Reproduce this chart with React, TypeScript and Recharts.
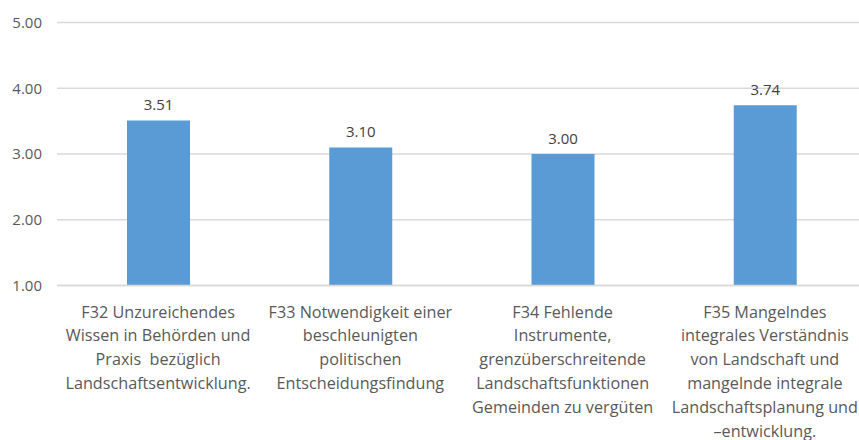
import { BarChart, Bar, XAxis, YAxis, CartesianGrid, LabelList } from "recharts";

const categories = [
  "F32 Unzureichendes|Wissen in Behörden und|Praxis  bezüglich|Landschaftsentwicklung.",
  "F33 Notwendigkeit einer|beschleunigten|politischen|Entscheidungsfindung",
  "F34 Fehlende|Instrumente,|grenzüberschreitende|Landschaftsfunktionen|Gemeinden zu vergüten",
  "F35 Mangelndes|integrales Verständnis|von Landschaft und|mangelnde integrale|Landschaftsplanung und|–entwicklung.",
];
const values = [3.51, 3.1, 3.0, 3.74];
const yTicks = [1, 2, 3, 4, 5];

const data = categories.map((name, i) => ({ name, value: values[i] }));

const FONT = "'Open Sans', 'Noto Sans', sans-serif";

const CategoryTick = ({ x, y, payload }: any) => {
  const lines = String(payload.value).split("|");
  return (
    <text x={x} y={y} textAnchor="middle" fill="#595959" fontSize={16.2} fontFamily={FONT}>
      {lines.map((line, i) => (
        <tspan key={i} x={x} dy={i === 0 ? 32 : 23.8} style={{ whiteSpace: "pre" }}>
          {line}
        </tspan>
      ))}
    </text>
  );
};

export default function App() {
  return (
    <div style={{ position: "absolute", left: 0, top: 0, width: 859, height: 440, overflow: "hidden", background: "#fff" }}>
      <BarChart
        width={866}
        height={440}
        data={data}
        margin={{ top: 22.5, right: 0, bottom: 0, left: 0 }}
        barCategoryGap="0%"
      >
        <CartesianGrid horizontal vertical={false} stroke="#d9d9d9" strokeWidth={1.3} />
        <XAxis
          dataKey="name"
          height={154.5}
          interval={0}
          tickLine={false}
          tickSize={0}
          tickMargin={0}
          axisLine={{ stroke: "#d9d9d9", strokeWidth: 1.3 }}
          tick={<CategoryTick />}
        />
        <YAxis
          width={57}
          domain={[1, 5]}
          ticks={yTicks}
          axisLine={false}
          tickLine={false}
          tickSize={0}
          tickMargin={15}
          tickFormatter={(v: number) => v.toFixed(2)}
          tick={{ fill: "#595959", fontSize: 15, fontFamily: FONT }}
        />
        <Bar dataKey="value" fill="#5b9bd5" barSize={63} isAnimationActive={false}>
          <LabelList
            dataKey="value"
            position="top"
            offset={10}
            formatter={(v: any) => Number(v).toFixed(2)}
            style={{ fill: "#404040", fontSize: 15, fontFamily: FONT }}
          />
        </Bar>
      </BarChart>
    </div>
  );
}
